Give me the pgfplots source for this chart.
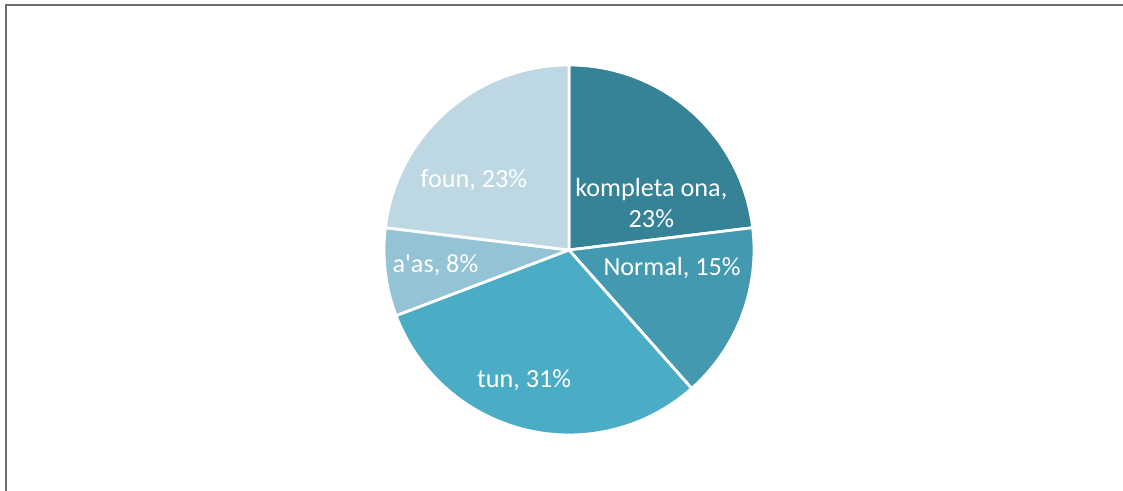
\documentclass[border=0pt]{standalone}
\usepackage{pgfplots}
\pgfplotsset{compat=1.18}
\usepackage{pgfplotstable}
\usepackage{fontspec}
\setmainfont{Carlito}
\newfontfamily\labelfam{Carlito}
\definecolor{c1}{HTML}{368398}
\definecolor{c2}{HTML}{4399B0}
\definecolor{c3}{HTML}{4BACC6}
\definecolor{c4}{HTML}{93C3D5}
\definecolor{c5}{HTML}{BDD8E3}
\definecolor{framegray}{HTML}{6E6E6E}
\newcommand\labelfont{\labelfam\fontsize{26.3}{32}\selectfont}

\pgfplotstableread[col sep=comma]{
name,value,color,lx,ly,br
kompleta ona,3,c1,0.445,0.254,1
Normal,2,c2,0.557,-0.097,0
tun,4,c3,-0.243,-0.703,0
a'as,1,c4,-0.722,-0.081,0
foun,3,c5,-0.514,0.378,0
}\piedata

\begin{document}
\begin{tikzpicture}[x=1bp,y=1bp]
\useasboundingbox (0,0) rectangle (1123,491);
\draw[framegray, line width=2bp] (5.5,0) -- (5.5,485.5) -- (1123,485.5);
% totals and angles
\gdef\total{0}
\foreach \i in {0,...,4}{%
  \pgfplotstablegetelem{\i}{value}\of\piedata
  \pgfmathsetmacro\tnew{\total+\pgfplotsretval}\global\let\total\tnew
}
\gdef\cum{0}
\foreach \i in {0,...,4}{%
  \pgfplotstablegetelem{\i}{value}\of\piedata \let\vv\pgfplotsretval
  \pgfmathsetmacro\ss{90-360*\cum/\total}%
  \pgfmathsetmacro\cumnew{\cum+\vv}\global\let\cum\cumnew
  \pgfmathsetmacro\ee{90-360*\cum/\total}%
  \pgfmathtruncatemacro\pp{round(100*\vv/\total)}%
  \expandafter\xdef\csname ps\i\endcsname{\ss}%
  \expandafter\xdef\csname pe\i\endcsname{\ee}%
  \expandafter\xdef\csname pp\i\endcsname{\pp}%
}
\begin{axis}[at={(569bp,241bp)}, anchor=center, scale only axis,
  width=370bp, height=370bp, xmin=-1, xmax=1, ymin=-1, ymax=1,
  hide axis, clip=false]
\pgfplotsinvokeforeach{0,...,4}{%
  \pgfplotstablegetelem{#1}{color}\of\piedata \edef\col{\pgfplotsretval}%
  \edef\doit{\noexpand\fill[fill=\col, draw=white, line width=2.8bp, line join=round]
    (axis cs:0,0) -- (axis cs:{cos(\csname ps#1\endcsname)},{sin(\csname ps#1\endcsname)})
    arc[start angle=\csname ps#1\endcsname, end angle=\csname pe#1\endcsname, radius=185bp] -- cycle;}%
  \doit
}
\pgfplotsinvokeforeach{0,...,4}{%
  \pgfplotstablegetelem{#1}{name}\of\piedata \edef\nm{\pgfplotsretval}%
  \pgfplotstablegetelem{#1}{lx}\of\piedata \edef\lx{\pgfplotsretval}%
  \pgfplotstablegetelem{#1}{ly}\of\piedata \edef\ly{\pgfplotsretval}%
  \pgfplotstablegetelem{#1}{br}\of\piedata \edef\br{\pgfplotsretval}%
  \edef\doit{\noexpand\node[text=white, align=center, font=\noexpand\labelfont, inner sep=0pt]
    at (axis cs:\lx,\ly) {\nm,\ifnum\br=1 \noexpand\\\else\space\fi\csname pp#1\endcsname\noexpand\%};}%
  \doit
}
\end{axis}
\end{tikzpicture}
\end{document}
